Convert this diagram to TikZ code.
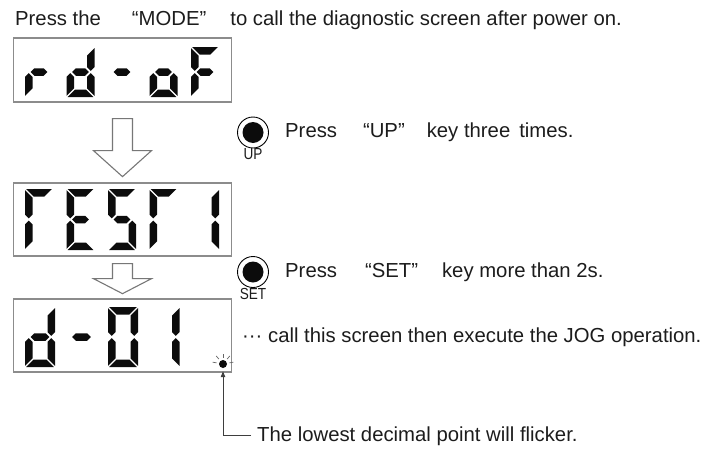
\documentclass[tikz,border=0pt]{standalone}
\usepackage{fontspec}
\setmainfont{Liberation Sans}
\usetikzlibrary{arrows.meta,positioning}
\definecolor{lcdframe} {RGB}{140,140,140}
\definecolor{segblack} {RGB}{12,12,12}
\definecolor{inktext}  {RGB}{28,28,28}

%% segment geometry of the 7-segment font (px), mitred corners
\newcommand\segt{7.5}
\newcommand\seggap{1.2}
\newcommand\lcda{\fill[segblack] (\seggap,0) -- (\digitw-\seggap,0)
  -- (\digitw-\segt-\seggap,\segt) -- (\segt+\seggap,\segt) -- cycle;}
\newcommand\lcdd{\fill[segblack] (\seggap,\digith) -- (\digitw-\seggap,\digith)
  -- (\digitw-\segt-\seggap,\digith-\segt) -- (\segt+\seggap,\digith-\segt) -- cycle;}
\newcommand\lcdg{\fill[segblack] (\segt/2+1.5*\seggap,\digith/2)
  -- (\segt+1.5*\seggap,\digith/2-\segt/2) -- (\digitw-\segt-1.5*\seggap,\digith/2-\segt/2)
  -- (\digitw-\segt/2-1.5*\seggap,\digith/2) -- (\digitw-\segt-1.5*\seggap,\digith/2+\segt/2)
  -- (\segt+1.5*\seggap,\digith/2+\segt/2) -- cycle;}
\newcommand\lcdf{\fill[segblack] (0,\seggap) -- (\segt,\segt+\seggap)
  -- (\segt,\digith/2-\segt/2-\seggap) -- (\segt/2,\digith/2-\seggap)
  -- (0,\digith/2-\segt/2-\seggap) -- cycle;}
\newcommand\lcde{\fill[segblack] (0,\digith/2+\segt/2+\seggap) -- (\segt/2,\digith/2+\seggap)
  -- (\segt,\digith/2+\segt/2+\seggap) -- (\segt,\digith-\segt-\seggap)
  -- (0,\digith-\seggap) -- cycle;}
\newcommand\lcdb{\fill[segblack] (\digitw,\seggap) -- (\digitw-\segt,\segt+\seggap)
  -- (\digitw-\segt,\digith/2-\segt/2-\seggap) -- (\digitw-\segt/2,\digith/2-\seggap)
  -- (\digitw,\digith/2-\segt/2-\seggap) -- cycle;}
\newcommand\lcdc{\fill[segblack] (\digitw,\digith/2+\segt/2+\seggap)
  -- (\digitw-\segt/2,\digith/2+\seggap) -- (\digitw-\segt,\digith/2+\segt/2+\seggap)
  -- (\digitw-\segt,\digith-\segt-\seggap) -- (\digitw,\digith-\seggap) -- cycle;}
%% \lcddigit{x}{y}{width}{height}{segments}
\newcommand\lcddigit[5]{%
  \begin{scope}[shift={(#1,#2)}]
    \pgfmathsetmacro\digitw{#3}
    \pgfmathsetmacro\digith{#4}
    \foreach \s in {#5}{\csname lcd\s\endcsname}
  \end{scope}}

\begin{document}
\begin{tikzpicture}[
  x=1pt, y=-1pt,
  >={Triangle[length=6pt,width=4.5pt]},
  txt/.style={font=\fontsize{20.3}{24}\selectfont,text=inktext,inner sep=0pt,anchor=base west},
  keylbl/.style={font=\fontsize{16}{18}\selectfont,text=inktext,inner sep=0pt},
  lcdbox/.style={draw=lcdframe,line width=1.3pt,minimum width=218pt,minimum height=#1,inner sep=0pt},
  blockarrow/.style={draw=lcdframe!85!black,line width=1.1pt,fill=white,line join=miter},
  keyring/.style={circle,draw=black,line width=0.9pt,minimum size=31pt,inner sep=0pt},
  dotpt/.style={circle,fill=segblack,minimum size=8pt,inner sep=0pt},
  leader/.style={draw=inktext!85,line width=0.9pt,->,shorten >=3pt},
  ray/.style={draw=gray!80!black,line width=0.7pt},
]
\useasboundingbox (0,0) rectangle (704,450);

%% ── Title ───────────────────────────────────────────────────────────────
\node[txt] (title) at (15,25)
  {Press the\hspace{31pt}“MODE”\hspace{24pt}to call the diagnostic screen after power on.};

%% ── Screens ─────────────────────────────────────────────────────────────
\node[lcdbox=64pt] (scr1) at (122.5,70) {};
\node[lcdbox=73pt] (scr2) at (122.5,219.5) {};
\node[lcdbox=73pt] (scr3) at (122.5,335.5) {};

%% screen 1: rd-oF
\lcddigit{25}{47}{28}{50}{e,g}
\lcddigit{66.5}{47}{28}{50}{b,c,d,e,g}
\lcddigit{108}{47}{28}{50}{g}
\lcddigit{149.5}{47}{28}{50}{c,d,e,g}
\lcddigit{191}{47}{28}{50}{a,e,f,g}

%% screen 2: test 1
\lcddigit{25}{189}{28}{61}{a,e,f}
\lcddigit{66.5}{189}{28}{61}{a,d,e,f,g}
\lcddigit{108}{189}{28}{61}{a,c,d,f,g}
\lcddigit{149.5}{189}{28}{61}{a,e,f}
\lcddigit{191}{189}{28}{61}{b,c}

%% screen 3: d-01 and flickering point
\lcddigit{25}{307}{30}{60}{b,c,d,e,g}
\lcddigit{66.5}{307}{30}{60}{g}
\lcddigit{108}{307}{30}{60}{a,b,c,d,e,f}
\lcddigit{149.5}{307}{30}{60}{b,c}
\node[dotpt] (dpt) at (223,364) {};
\foreach \a in {-10,-50,-90,-130,-170}
  \draw[ray] ([shift={(\a:6.5)}]dpt.center) -- ([shift={(\a:10.5)}]dpt.center);

%% ── Block arrows between screens ────────────────────────────────────────
\draw[blockarrow] (scr1.south) ++(-10,16) -- ++(20,0) -- ++(0,32) -- ++(19,0)
  -- ++(-29,26) -- ++(-29,-26) -- ++(19,0) -- cycle;
\draw[blockarrow] (scr2.south) ++(-10,7) -- ++(20,0) -- ++(0,15) -- ++(19,0)
  -- ++(-29,15) -- ++(-29,-15) -- ++(19,0) -- cycle;

%% ── Keys ────────────────────────────────────────────────────────────────
\node[keyring] (upkey) at (253,132.5) {};
\fill[segblack] (upkey.center) circle[radius=10.5];
\node[keylbl,below=0pt of upkey] (uplbl) {\scalebox{0.85}[1]{UP}};
\node[txt] (uptxt) at (285,137)
  {Press\hspace{26pt}“UP”\hspace{22pt}key three\hspace{9pt}times.};

\node[keyring] (setkey) at (253,272) {};
\fill[segblack] (setkey.center) circle[radius=10.5];
\node[keylbl,below=0pt of setkey] (setlbl) {\scalebox{0.85}[1]{SET}};
\node[txt] (settxt) at (285,277)
  {Press\hspace{28pt}“SET”\hspace{24pt}key more than 2s.};

%% ── Notes ───────────────────────────────────────────────────────────────
\node[txt] (jog) at (242,342) {··· call this screen then execute the JOG operation.};
\node[txt] (flick) at (257,441) {The lowest decimal point will flicker.};
\draw[leader] ([xshift=-6pt]flick.west) -| (dpt.south);

\end{tikzpicture}
\end{document}
